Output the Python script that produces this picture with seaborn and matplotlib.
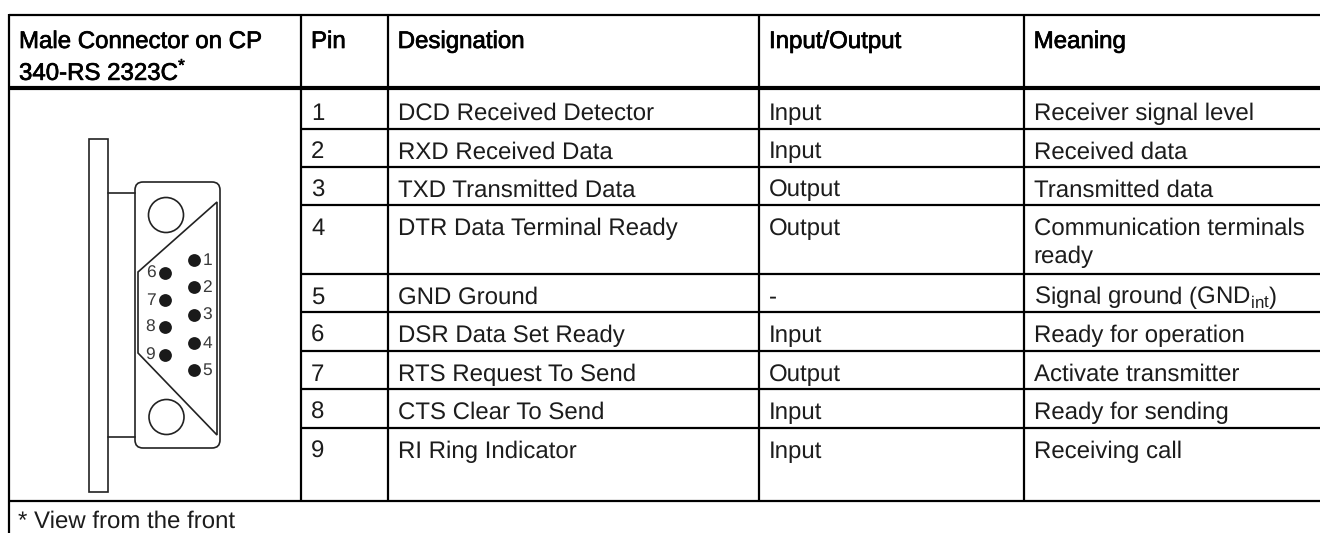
import matplotlib
matplotlib.use("Agg")
import matplotlib.pyplot as plt
import matplotlib.patheffects as pe
from matplotlib.patches import Circle, FancyBboxPatch, Polygon, Rectangle
import pandas as pd
import seaborn as sns

pins = ["1", "2", "3", "4", "5", "6", "7", "8", "9"]
designations = ["DCD Received Detector", "RXD Received Data", "TXD Transmitted Data",
                "DTR Data Terminal Ready", "GND Ground", "DSR Data Set Ready",
                "RTS Request To Send", "CTS Clear To Send", "RI Ring Indicator"]
directions = ["Input", "Input", "Output", "Output", "-", "Input", "Output", "Input", "Input"]
meanings = ["Receiver signal level", "Received data", "Transmitted data",
            "Communication terminals\nready", "Signal ground (GND$_{\\mathregular{int}}$)",
            "Ready for operation", "Activate transmitter", "Ready for sending", "Receiving call"]
headers = ["Pin", "Designation", "Input/Output", "Meaning"]

# table layout in pixels
col_edges = [9, 301, 387.7, 759, 1023.7, 1320]
row_edges = [88, 128.7, 166.7, 205, 274, 312.3, 351, 389, 428, 501]

sns.set_theme(style="white")
plt.rcParams['font.family'] = ['Liberation Sans', 'DejaVu Sans']
plt.rcParams['text.hinting'] = 'none'

fig = plt.figure(figsize=(13.2, 5.33), dpi=100)
ax = fig.add_axes([0, 0, 1, 1])

# pin dots of the connector
dots = pd.DataFrame({
    "x": [193.7, 193.7, 193.7, 193.7, 193.7, 165, 165, 165, 165],
    "y": [260, 287, 315, 343, 370, 273, 300, 327, 355],
})
sns.scatterplot(data=dots, x="x", y="y", s=85, color="#1a1a1a", linewidth=0, ax=ax, legend=False)
ax.set_xlim(0, 1320)
ax.set_ylim(533, 0)
ax.axis("off")
for x, y, p in zip(dots["x"], dots["y"], pins):
    offset = 13.5 if x > 180 else -14.5
    ax.text(x + offset, y + 0.5, p, fontsize=12.5, color="#3a3a3a", va="center", ha="center")

# grid lines
lw = 1.6
ax.plot([9, 1320], [14.5, 14.5], color="black", lw=lw, solid_capstyle="butt")
ax.plot([8, 1320], [88, 88], color="black", lw=3, solid_capstyle="butt")
ax.plot([8, 1320], [501, 501], color="black", lw=lw, solid_capstyle="butt")
ax.plot([9, 9], [13.5, 533], color="black", lw=lw, solid_capstyle="butt")
for x in col_edges[1:-1]:
    ax.plot([x, x], [13.5, 501], color="black", lw=lw, solid_capstyle="butt")
for y in row_edges[1:-1]:
    ax.plot([301, 1320], [y, y], color="black", lw=lw, solid_capstyle="butt")

# header, slightly heavier than the body text
fs = 17.3
heavy = [pe.withStroke(linewidth=0.5, foreground="black")]
ax.text(19, 48, "Male Connector on CP", fontsize=fs, color="black", va="baseline", path_effects=heavy)
ax.text(19, 80, "340-RS 2323C$^{\\mathregular{*}}$", fontsize=fs, color="black", va="baseline",
        path_effects=heavy)
for x, h in zip(col_edges[1:], headers):
    ax.text(x + 10, 48, h, fontsize=fs, color="black", va="baseline", path_effects=heavy)

# body rows
body = "#1c1c1c"
for i in range(len(pins)):
    y = row_edges[i] + (32 if i == 0 else 29.7)
    ax.text(col_edges[1] + 10, y, pins[i], fontsize=fs, color=body, va="baseline")
    ax.text(col_edges[2] + 10, y, designations[i], fontsize=fs, color=body, va="baseline")
    ax.text(col_edges[3] + 10, y, directions[i], fontsize=fs, color=body, va="baseline")
    for k, part in enumerate(meanings[i].split("\n")):
        ax.text(col_edges[4] + 10, y + 28 * k, part, fontsize=fs, color=body, va="baseline")

ax.text(18, 528, "* View from the front", fontsize=fs, color=body, va="baseline")

# connector drawing
edge = "#222222"
ax.add_patch(Rectangle((89, 139), 19, 353, fill=False, ec=edge, lw=1.2))
ax.plot([108, 135], [193, 193], color=edge, lw=1.2)
ax.plot([108, 135], [437, 437], color=edge, lw=1.2)
ax.add_patch(FancyBboxPatch((141, 188), 73, 254, boxstyle="round,pad=6,rounding_size=8",
                            fill=False, ec=edge, lw=1.2))
ax.add_patch(Polygon([(217, 202), (217, 435), (138, 353), (138, 272)], closed=True,
                     fill=False, ec=edge, lw=1.2))
ax.add_patch(Circle((166, 215), 17.5, fill=False, ec=edge, lw=1.2))
ax.add_patch(Circle((166.5, 417), 17.5, fill=False, ec=edge, lw=1.2))

fig.savefig("out.png", dpi=100)
